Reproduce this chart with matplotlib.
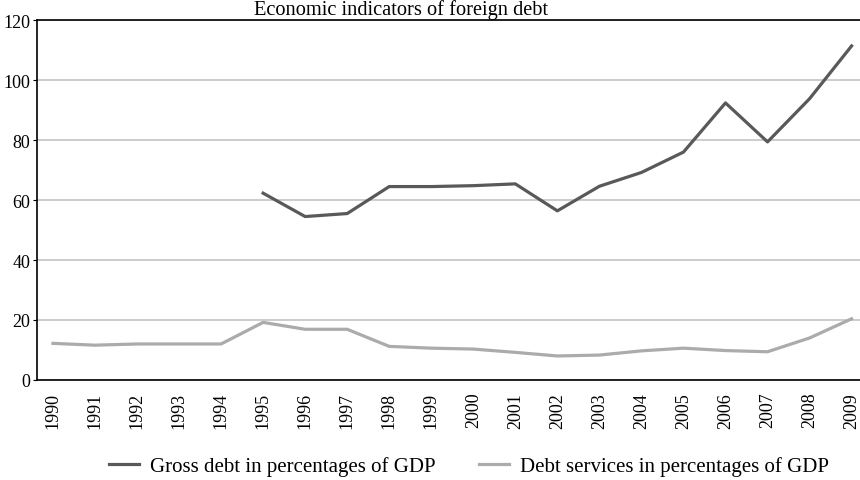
import matplotlib.pyplot as plt

years = list(range(1990, 2010))
gross_years = list(range(1995, 2010))
gross_debt = [62.3, 54.5, 55.5, 64.5, 64.5, 64.8, 65.4, 56.4, 64.6, 69.2, 76.0, 92.4, 79.4, 93.8, 111.4]
debt_services = [12.2, 11.6, 12.0, 12.0, 12.0, 19.2, 16.9, 16.9, 11.2, 10.6, 10.3, 9.2, 8.0, 8.3, 9.7, 10.6, 9.8, 9.4, 14.0, 20.4]

plt.rcParams['font.family'] = ['Liberation Serif', 'DejaVu Serif']

fig = plt.figure(figsize=(8.6, 4.81), dpi=100)
ax = fig.add_axes([0.043, 0.208, 0.957, 0.748])

ax.plot(gross_years, gross_debt, color='#595959', linewidth=2.3,
        label='Gross debt in percentages of GDP')
ax.plot(years, debt_services, color='#ababab', linewidth=2.3,
        label='Debt services in percentages of GDP')

ax.set_ylim(0, 120)
ax.set_yticks(range(0, 121, 20))
ax.set_xlim(1989.62, 2009.2)
ax.set_xticks(years)
ax.set_xticklabels([str(y) for y in years], rotation=90, fontsize=13)
ax.tick_params(axis='y', labelsize=13, length=3, pad=2)
ax.tick_params(axis='x', length=0, pad=8.5)

ax.grid(axis='y', color='#c4c4c4', linewidth=1.2)
ax.set_axisbelow(True)
ax.spines['right'].set_visible(False)
for s in ['left', 'bottom', 'top']:
    ax.spines[s].set_linewidth(1.2)

# title squeezed into the strip above the plot
fig.text(0.466, 1 - 15 / 481, 'Economic indicators of foreign debt',
         ha='center', va='baseline', fontsize=14.7)

fig.legend(loc='center', bbox_to_anchor=(0.545, 0.029), ncol=2, frameon=False,
           fontsize=15, handlelength=1.45, handletextpad=0.5, columnspacing=2.1)

fig.savefig('out.png', dpi=100)
